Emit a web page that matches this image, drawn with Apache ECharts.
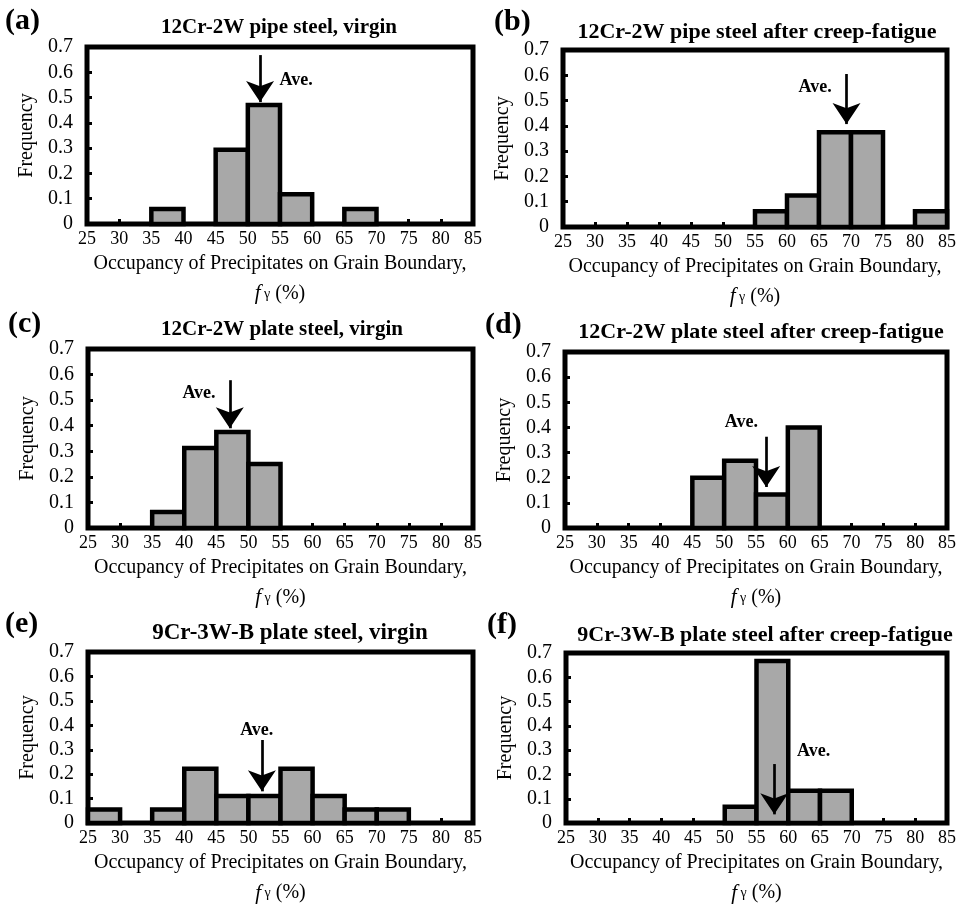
<!DOCTYPE html>
<html><head><meta charset="utf-8">
<script src="https://cdn.jsdelivr.net/npm/echarts@6/dist/echarts.min.js"></script>
<style>html,body{margin:0;padding:0;background:#fff}#c{width:959px;height:909px}</style>
</head><body><div id="c"></div>
<script>
// ---- data ----
const binStarts = [25, 30, 35, 40, 45, 50, 55, 60, 65, 70, 75, 80];
const binWidth = 5;
const xTicks = [25, 30, 35, 40, 45, 50, 55, 60, 65, 70, 75, 80, 85];
const yTicks = [0, 0.1, 0.2, 0.3, 0.4, 0.5, 0.6, 0.7];
const panelLetters = ['(a)', '(b)', '(c)', '(d)', '(e)', '(f)'];
const panelTitles = [
  '12Cr-2W pipe steel, virgin',
  '12Cr-2W pipe steel after creep-fatigue',
  '12Cr-2W plate steel, virgin',
  '12Cr-2W plate steel after creep-fatigue',
  '9Cr-3W-B plate steel, virgin',
  '9Cr-3W-B plate steel after creep-fatigue'
];
const freqA = [0, 0, 0.059, 0, 0.294, 0.471, 0.118, 0, 0.059, 0, 0, 0];
const freqB = [0, 0, 0, 0, 0, 0, 0.0625, 0.125, 0.375, 0.375, 0, 0.0625];
const freqC = [0, 0, 0.0625, 0.3125, 0.375, 0.25, 0, 0, 0, 0, 0, 0];
const freqD = [0, 0, 0, 0, 0.2, 0.267, 0.133, 0.4, 0, 0, 0, 0];
const freqE = [0.056, 0, 0.056, 0.222, 0.111, 0.111, 0.222, 0.111, 0.056, 0.056, 0, 0];
const freqF = [0, 0, 0, 0, 0, 0.067, 0.667, 0.133, 0.133, 0, 0, 0];
// average arrows: [x, yStart, yEnd]
const aveArrowA = [51.9, 0.668, 0.482];
const aveArrowB = [69.3, 0.605, 0.407];
const aveArrowC = [47.1, 0.578, 0.39];
const aveArrowD = [56.6, 0.363, 0.163];
const aveArrowE = [52.1, 0.34, 0.13];
const aveArrowF = [57.8, 0.243, 0.036];
// "Ave." label anchor [x, y]
const aveLabelA = [57.5, 0.569];
const aveLabelB = [64.4, 0.553];
const aveLabelC = [42.3, 0.527];
const aveLabelD = [52.7, 0.42];
const aveLabelE = [51.3, 0.38];
const aveLabelF = [64.0, 0.295];

const freqs = [freqA, freqB, freqC, freqD, freqE, freqF];
const arrows = [aveArrowA, aveArrowB, aveArrowC, aveArrowD, aveArrowE, aveArrowF];
const aveLabels = [aveLabelA, aveLabelB, aveLabelC, aveLabelD, aveLabelE, aveLabelF];

// ---- layout (style) ----
const grids = [
  {left: 87, top: 47, width: 386, height: 177},
  {left: 563, top: 50, width: 387, height: 177},
  {left: 88, top: 349, width: 385, height: 179},
  {left: 565, top: 352, width: 385, height: 176},
  {left: 88, top: 652, width: 385, height: 176},
  {left: 566, top: 653, width: 386, height: 176}
];
const titlePos = [[279, 28], [757, 32], [282, 330], [761, 332], [290, 633], [765, 635]];
const titleSizes = [21, 22, 21, 22, 23, 22];
const letterPos = [[5, 21], [494, 22], [8, 324], [485, 325], [5, 624], [487, 625]];

const SERIF = '"Liberation Serif", "Times New Roman", serif';

const chart = echarts.init(document.getElementById('c'), null, {renderer: 'canvas'});

function renderBar(params, api) {
  const x0 = api.value(0), y = api.value(1);
  if (!y) return null;
  const p0 = api.coord([x0, 0]);
  const p1 = api.coord([x0 + binWidth, y]);
  return {
    type: 'rect',
    shape: {x: p0[0], y: p1[1], width: p1[0] - p0[0], height: p0[1] - p1[1]},
    style: {fill: '#a8a8a8', stroke: '#000', lineWidth: 4.5}
  };
}

const option = {
  animation: false,
  backgroundColor: '#fff',
  grid: grids.map(g => Object.assign({show: true, borderColor: '#000', borderWidth: 5, backgroundColor: 'transparent'}, g)),
  xAxis: grids.map((g, i) => ({
    type: 'value', gridIndex: i, min: xTicks[0], max: xTicks[xTicks.length - 1], interval: 5,
    splitLine: {show: false},
    axisLine: {show: false},
    axisTick: {show: true, inside: true, length: 5, lineStyle: {color: '#000', width: 3}},
    axisLabel: {color: '#000', fontFamily: SERIF, fontSize: 18, margin: 6, showMinLabel: true, showMaxLabel: true},
    name: '{n|Occupancy of Precipitates on Grain Boundary,}\n{f|f}{g| γ}{n| (%)}',
    nameLocation: 'middle', nameGap: 20,
    nameTextStyle: {
      color: '#000', fontFamily: SERIF, fontSize: 20, lineHeight: 30,
      rich: {
        n: {fontFamily: SERIF, fontSize: 20, color: '#000', lineHeight: 30},
        f: {fontFamily: SERIF, fontSize: 21, fontStyle: 'italic', color: '#000', lineHeight: 30},
        g: {fontFamily: SERIF, fontSize: 14, color: '#000', lineHeight: 30}
      }
    }
  })),
  yAxis: grids.map((g, i) => ({
    type: 'value', gridIndex: i, min: 0, max: yTicks[yTicks.length - 1], interval: 0.1,
    splitLine: {show: false},
    axisLine: {show: false},
    axisTick: {show: true, inside: true, length: 5, lineStyle: {color: '#000', width: 3}},
    axisLabel: {color: '#000', fontFamily: SERIF, fontSize: 20, margin: 14,
      formatter: v => (v === 0 ? '0' : v.toFixed(1))},
    name: 'Frequency', nameLocation: 'middle', nameGap: 50, nameRotate: 90,
    nameTextStyle: {color: '#000', fontFamily: SERIF, fontSize: 20}
  })),
  series: freqs.map((fr, i) => ({
    type: 'custom', xAxisIndex: i, yAxisIndex: i,
    renderItem: renderBar,
    data: binStarts.map((b, k) => [b, fr[k]]),
    silent: true,
    markLine: {
      silent: true, animation: false,
      symbol: ['none', 'arrow'], symbolSize: [21, 21],
      lineStyle: {color: '#000', width: 2.7, type: 'solid'},
      label: {show: false},
      data: [[{coord: [arrows[i][0], arrows[i][1]]}, {coord: [arrows[i][0], arrows[i][2]]}]]
    },
    markPoint: {
      silent: true, animation: false,
      symbol: 'circle', symbolSize: 0,
      label: {show: true, position: 'inside', formatter: 'Ave.', color: '#000',
        fontFamily: SERIF, fontSize: 18, fontWeight: 'bold'},
      data: [{coord: aveLabels[i]}]
    }
  })),
  graphic: [].concat(
    panelTitles.map((t, i) => ({
      type: 'text', x: titlePos[i][0], y: titlePos[i][1],
      style: {text: t, align: 'center', verticalAlign: 'middle', fill: '#000',
        font: 'bold ' + titleSizes[i] + 'px ' + SERIF}
    })),
    panelLetters.map((t, i) => ({
      type: 'text', x: letterPos[i][0], y: letterPos[i][1],
      style: {text: t, align: 'left', verticalAlign: 'middle', fill: '#000',
        font: 'bold 30px ' + SERIF}
    }))
  )
};
chart.setOption(option);
</script>
</body></html>
